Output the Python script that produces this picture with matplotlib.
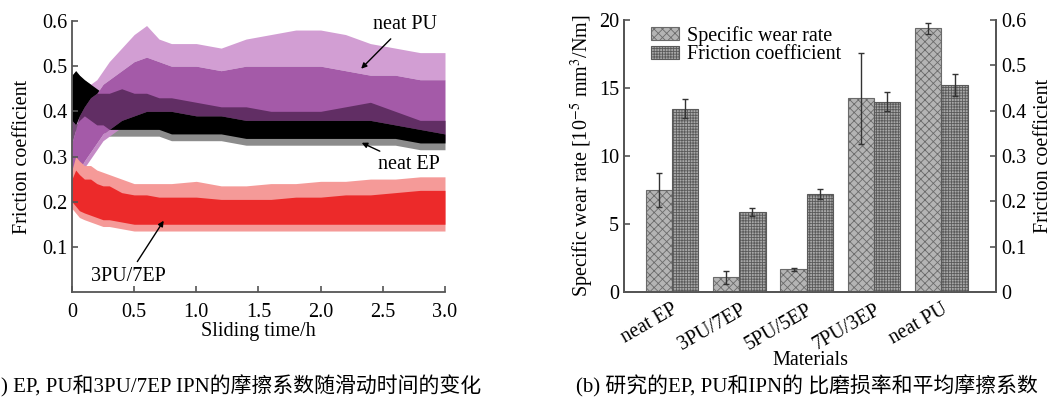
import numpy as np
import matplotlib
matplotlib.use("Agg")
import matplotlib.pyplot as plt

plt.rcParams['font.family'] = ['Liberation Serif', 'Noto Sans CJK SC']
plt.rcParams['hatch.linewidth'] = 0.6
plt.rcParams['mathtext.fontset'] = 'stix'

###########################################################
# (a) friction coefficient vs sliding time, band envelopes
t = [0, .03, .06, .1, .15, .2, .25, .3, .4, .5, .6, .7, .8, 1.0,
     1.2, 1.4, 1.6, 1.8, 2.0, 2.2, 2.4, 2.6, 2.8, 3.0]

pu_spike = [.37, .40, .42, .44, .46, .47, .49, .51, .54, .57, .59, .56, .55, .55,
            .54, .56, .57, .58, .58, .57, .55, .54, .53, .53]
pu_hi = [.33, .36, .39, .41, .43, .44, .46, .47, .49, .51, .52, .51, .50, .50,
         .49, .50, .50, .50, .50, .49, .48, .48, .47, .47]
pu_lo = [.22, .24, .27, .29, .31, .33, .35, .36, .38, .39, .40, .40, .40, .39,
         .39, .38, .38, .38, .38, .38, .38, .37, .36, .35]

ep_hi = [.48, .49, .48, .47, .46, .45, .44, .44, .45, .44, .44, .43, .43, .42,
         .41, .41, .40, .40, .40, .41, .42, .40, .38, .38]
ep_lo = [.38, .37, .38, .39, .38, .37, .37, .36, .36, .36, .36, .36, .35, .35,
         .35, .34, .34, .34, .34, .34, .34, .34, .33, .33]

ipn_spike = [.27, .30, .29, .28, .28, .27, .265, .26, .25, .24, .24, .24, .24, .245,
             .235, .235, .24, .24, .245, .245, .25, .25, .255, .255]
ipn_hi = [.25, .27, .26, .25, .25, .24, .235, .235, .22, .215, .215, .21, .21, .21,
          .205, .205, .205, .21, .21, .215, .215, .22, .225, .225]
ipn_lo = [.20, .19, .18, .175, .17, .165, .16, .16, .155, .15, .15, .15, .15, .15,
          .15, .15, .15, .15, .15, .15, .15, .15, .15, .15]

# (b) wear rate and mean friction coefficient
materials = ['neat EP', '3PU/7EP', '5PU/5EP', '7PU/3EP', 'neat PU']
wear = [7.5, 1.08, 1.67, 14.25, 19.4]
wear_err = [1.25, 0.5, 0.12, 3.35, 0.4]
mu = [0.404, 0.177, 0.216, 0.420, 0.457]
mu_err = [0.021, 0.009, 0.011, 0.021, 0.024]

###########################################################
fig = plt.figure(figsize=(10.55, 4), dpi=100)
spc = '#555555'
fs = 14.5

ax = fig.add_axes([0.0682, 0.27, 0.3536, 0.6775])
tt = np.array(t)
plo, phi = np.array(pu_lo), np.array(pu_hi)
elo, ehi = np.array(ep_lo), np.array(ep_hi)

ax.fill_between(tt, elo - 0.015, ehi, color='#8c8c8c', lw=0)
ax.fill_between(tt, phi, pu_spike, color='#d29ed3', lw=0)
ax.fill_between(tt, plo - 0.015, plo, color='#c48ac6', lw=0)
ax.fill_between(tt, plo, phi, color='#a45aa8', lw=0)
# neat EP: solid where it is outside the PU band, mixed where they overlap
ax.fill_between(tt, elo, np.minimum(ehi, plo), where=elo < plo, interpolate=True,
                color='black', lw=0)
ax.fill_between(tt, np.maximum(elo, phi), ehi, where=ehi > phi, interpolate=True,
                color='black', lw=0)
ax.fill_between(tt, np.maximum(elo, plo), np.minimum(ehi, phi), color='#2a0a2c',
                lw=0, alpha=0.55)
ax.fill_between(tt, np.array(ipn_lo) - 0.015, ipn_spike, color='#f59a98', lw=0)
ax.fill_between(tt, ipn_lo, ipn_hi, color='#ec2a2a', lw=0)

ax.set_xlim(0, 3.0)
ax.set_ylim(0, 0.6)
ax.set_xticks([0, 0.5, 1.0, 1.5, 2.0, 2.5, 3.0])
ax.set_xticklabels(['0', '0.5', '1.0', '1.5', '2.0', '2.5', '3.0'])
ax.set_yticks([0.1, 0.2, 0.3, 0.4, 0.5, 0.6])
ax.tick_params(direction='in', labelsize=fs, color=spc, length=4, width=1.2)
ax.tick_params(axis='x', pad=8)
for s in ['top', 'right']:
    ax.spines[s].set_visible(False)
for s in ['left', 'bottom']:
    ax.spines[s].set_color(spc)
    ax.spines[s].set_linewidth(1.3)
ax.set_xlabel('Sliding time/h', fontsize=fs, labelpad=0)
ax.set_ylabel('Friction coefficient', fontsize=fs, labelpad=7)

arr = dict(arrowstyle='-|>', color='black', lw=1, mutation_scale=8)
ax.annotate('neat PU', xy=(2.31, 0.49), xytext=(2.42, 0.592), fontsize=fs,
            ha='left', va='center', arrowprops=arr)
ax.annotate('neat EP', xy=(2.31, 0.333), xytext=(2.46, 0.282), fontsize=fs,
            ha='left', va='center', arrowprops=arr)
ax.annotate('3PU/7EP', xy=(0.75, 0.163), xytext=(0.45, 0.035), fontsize=fs,
            ha='center', va='center', arrowprops=arr)

fig.text(0.001, 0.035, ') EP, PU和3PU/7EP IPN的摩擦系数随滑动时间的变化', fontsize=15,
         ha='left', va='center')

###########################################################
bx = fig.add_axes([0.5915, 0.27, 0.3526, 0.68])
bx2 = bx.twinx()
x = np.arange(len(materials))
w = 0.39
b1 = bx.bar(x - w / 2, wear, w, color='#b4b4b4', edgecolor='#6a6a6a', hatch='xxxx',
            lw=0.8, yerr=wear_err, capsize=2.5, error_kw=dict(lw=1, ecolor='#333333'),
            label='Specific wear rate')
b2 = bx2.bar(x + w / 2, mu, w, color='#a8a8a8', edgecolor='#5a5a5a', hatch='++++++',
             lw=0.8, yerr=mu_err, capsize=2.5, error_kw=dict(lw=1, ecolor='#333333'),
             label='Friction coefficient')

bx.set_xlim(-0.71, 4.81)
bx.set_ylim(0, 20)
bx2.set_ylim(0, 0.6)
bx.set_yticks([0, 5, 10, 15, 20])
bx2.set_yticks([0, 0.1, 0.2, 0.3, 0.4, 0.5, 0.6])
bx2.set_yticklabels(['0', '0.1', '0.2', '0.3', '0.4', '0.5', '0.6'])
bx.set_xticks(x)
bx.set_xticklabels(materials, rotation=30, ha='right', rotation_mode='anchor')
bx.tick_params(axis='x', length=0, labelsize=fs, pad=6)
bx.tick_params(axis='y', direction='in', labelsize=fs, color=spc, length=4, width=1.2)
bx2.tick_params(axis='y', direction='in', labelsize=fs, color=spc, length=4, width=1.2)
for a in [bx, bx2]:
    a.spines['top'].set_visible(False)
    for s in ['left', 'right', 'bottom']:
        a.spines[s].set_color(spc)
        a.spines[s].set_linewidth(1.3)
bx.set_xlabel('Materials', fontsize=fs, labelpad=-2)
bx.set_ylabel('Specific wear rate [10$^{-5}$ mm$^3$/Nm]', fontsize=fs, labelpad=2)
bx2.set_ylabel('Friction coefficient', fontsize=fs, labelpad=6)

bx.legend([b1, b2], ['Specific wear rate', 'Friction coefficient'], loc='upper left',
          bbox_to_anchor=(0.035, 1.03), frameon=False, fontsize=fs, handlelength=1.4,
          handleheight=0.6, handletextpad=0.4, labelspacing=-0.02, borderpad=0.2)

fig.text(0.5455, 0.035, '(b) 研究的EP, PU和IPN的 比磨损率和平均摩擦系数', fontsize=15,
         ha='left', va='center')

fig.savefig('out.png', dpi=100)
